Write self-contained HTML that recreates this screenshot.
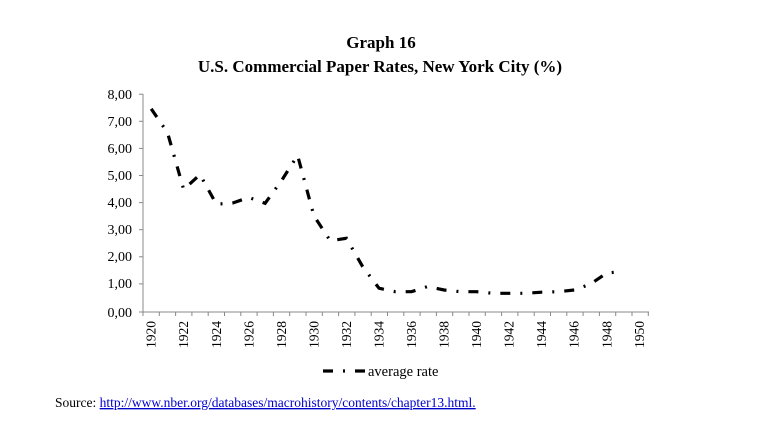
<!DOCTYPE html>
<html><head><meta charset="utf-8"><style>
html,body{margin:0;padding:0;background:#fff;}
svg{display:block;font-family:"Liberation Serif",serif;}
</style></head><body>
<svg width="775" height="436" viewBox="0 0 775 436" xmlns="http://www.w3.org/2000/svg">
<text x="381" y="48" font-size="17" font-weight="bold" text-anchor="middle">Graph 16</text>
<text x="380" y="72" font-size="17" font-weight="bold" text-anchor="middle">U.S. Commercial Paper Rates, New York City (%)</text>
<g stroke="#888" stroke-width="1">
<line x1="143" y1="94" x2="143" y2="312"/>
<line x1="143" y1="312" x2="649" y2="312"/>
<line x1="139" y1="94.2" x2="143" y2="94.2"/>
<line x1="139" y1="121.3" x2="143" y2="121.3"/>
<line x1="139" y1="148.4" x2="143" y2="148.4"/>
<line x1="139" y1="175.5" x2="143" y2="175.5"/>
<line x1="139" y1="202.6" x2="143" y2="202.6"/>
<line x1="139" y1="229.7" x2="143" y2="229.7"/>
<line x1="139" y1="256.8" x2="143" y2="256.8"/>
<line x1="139" y1="283.9" x2="143" y2="283.9"/>
<line x1="139" y1="312" x2="143" y2="312"/>
</g>
<g stroke="#888" stroke-width="1" id="xt"></g>
<g font-size="14" text-anchor="end">
<text x="132" y="99">8,00</text>
<text x="132" y="126">7,00</text>
<text x="132" y="153">6,00</text>
<text x="132" y="180">5,00</text>
<text x="132" y="207">4,00</text>
<text x="132" y="234">3,00</text>
<text x="132" y="261">2,00</text>
<text x="132" y="288">1,00</text>
<text x="132" y="317">0,00</text>
</g>
<g font-size="13.5" id="xl"></g>
<polyline fill="none" stroke="#000" stroke-width="3.2" stroke-dasharray="10 10 2 10" points="
151.2,108.8 167.5,132.6 183.7,189.5 200,174.6 216.3,204.1 232.5,203.1 248.8,197.4 265.1,203.3 281.4,180.8 297.6,155.4 313.9,215.8 330.2,240.7 346.4,238.3 362.7,266.7 379,288.2 395.2,291.7 411.5,291.7 427.8,286.5 444.1,290 460.3,291.7 476.6,291.7 492.9,293.3 509.1,293.3 525.4,293.3 541.7,292.2 558,291.7 574.2,290 590.5,284.1 606.8,273 623,271.6"/>
<line x1="323" y1="371" x2="367" y2="371" stroke="#000" stroke-width="3.2" stroke-dasharray="10 10 2 10"/>
<text x="368" y="376" font-size="14.5">average rate</text>
<text x="55" y="407" font-size="13.5">Source: <tspan fill="#0000cc" text-decoration="underline">http://www.nber.org/databases/macrohistory/contents/chapter13.html.</tspan></text>
<script>
var t=document.getElementById('xt'),l=document.getElementById('xl'),ns='http://www.w3.org/2000/svg';
for(var i=0;i<=31;i++){var x=143+i*16.3;var e=document.createElementNS(ns,'line');e.setAttribute('x1',x);e.setAttribute('x2',x);e.setAttribute('y1',312);e.setAttribute('y2',316);t.appendChild(e);}
for(var y=1920;y<=1950;y+=2){var i=y-1920;var x=151.2+i*16.27+4.5;var e=document.createElementNS(ns,'text');e.setAttribute('transform','translate('+x+',348) rotate(-90)');e.textContent=y;l.appendChild(e);}
</script>
</svg>
</body></html>
